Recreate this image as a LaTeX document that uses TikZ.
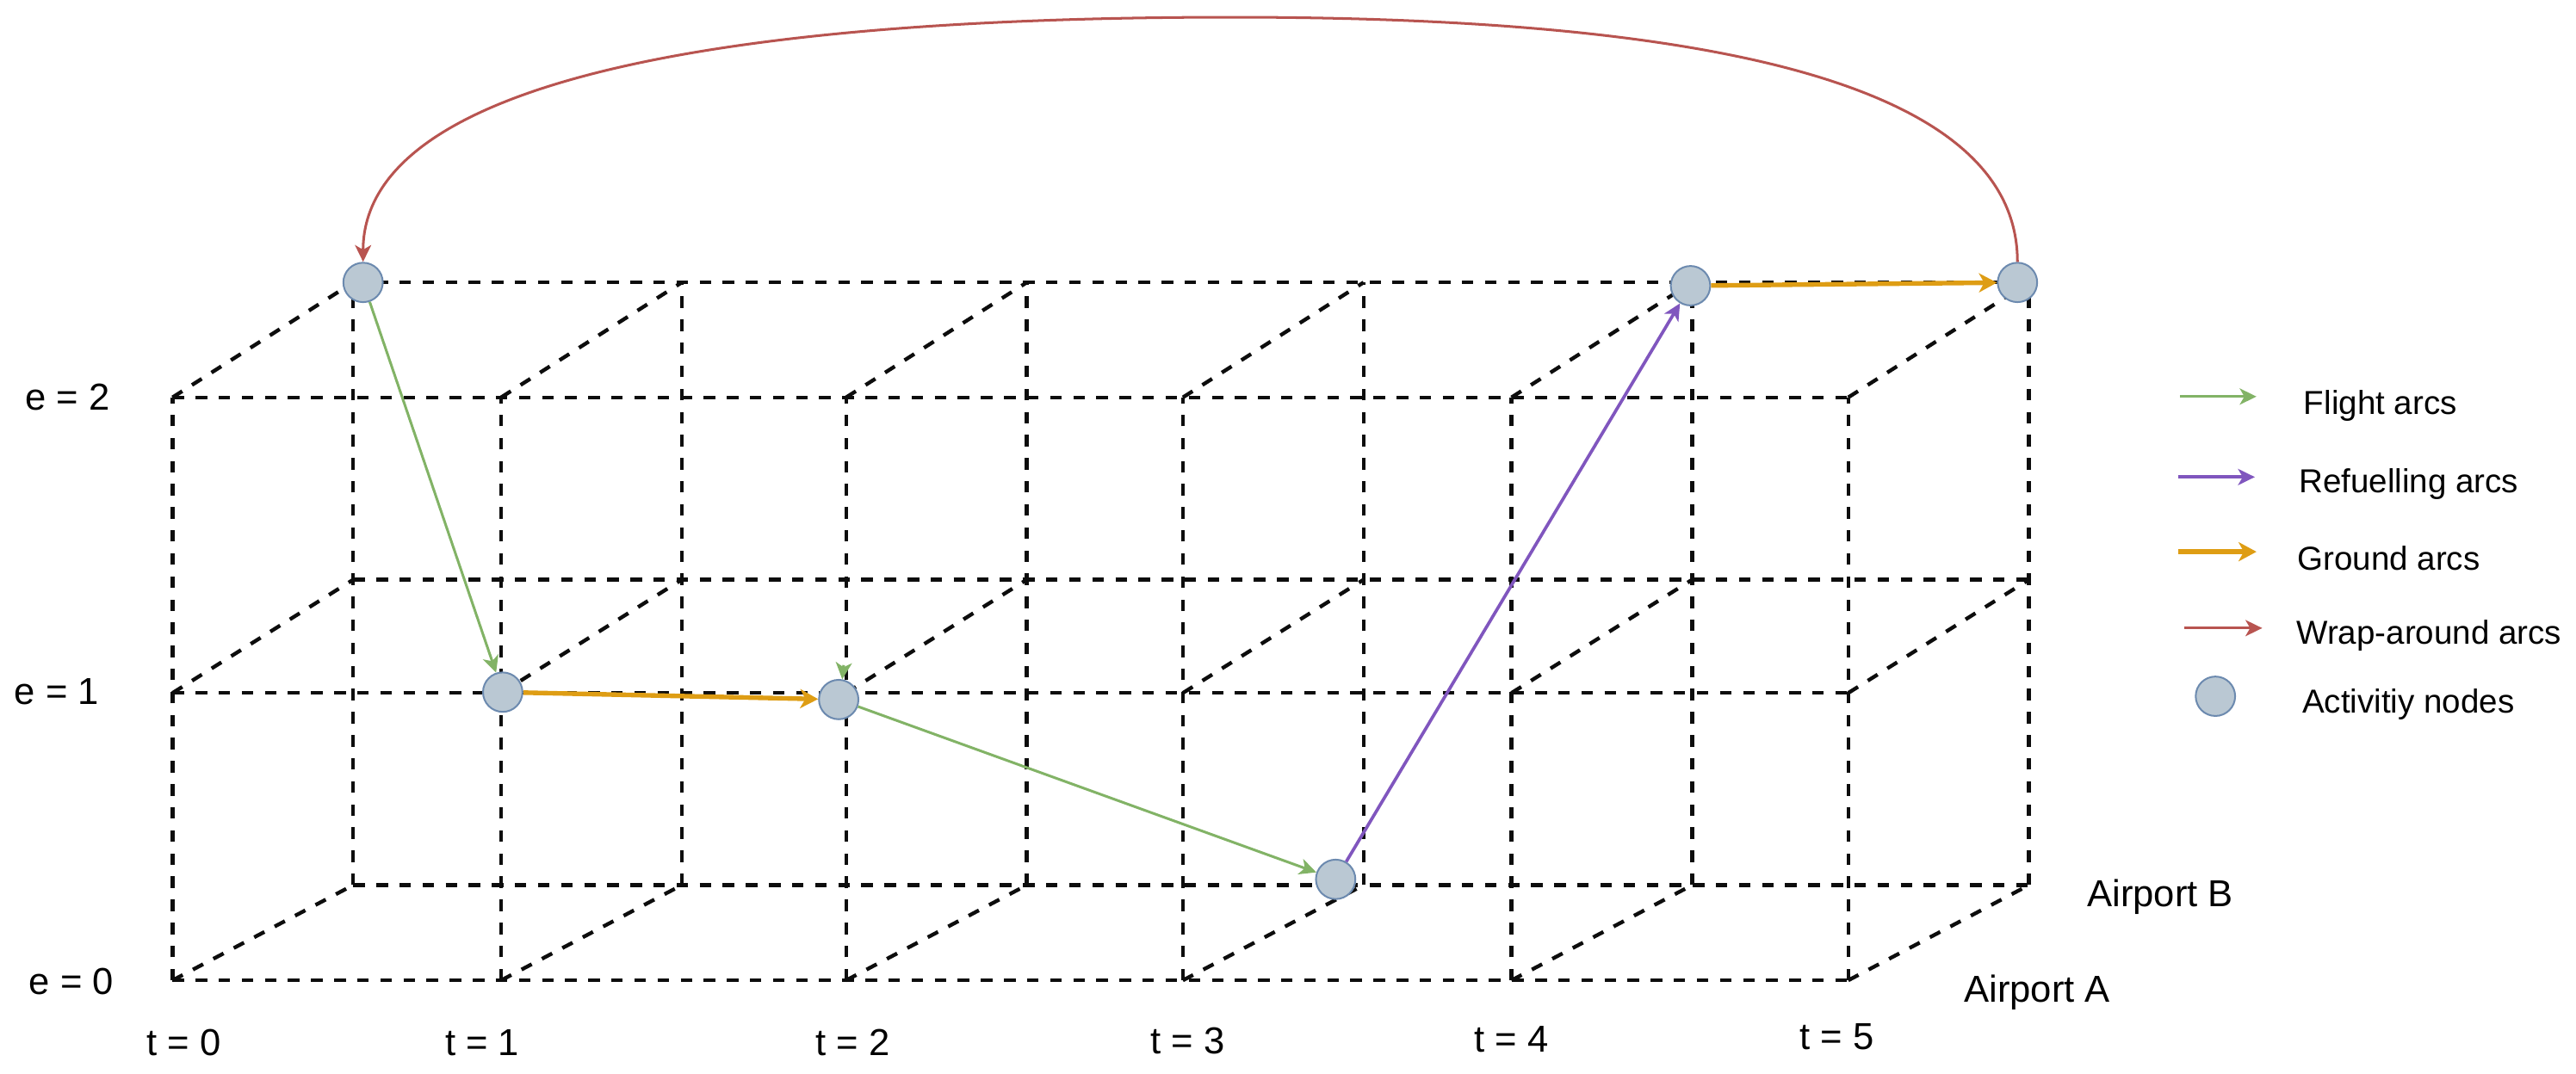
\documentclass[tikz,border=0pt]{standalone}
\usepackage{fontspec}
\setmainfont{Liberation Sans}
\usetikzlibrary{arrows.meta}
\definecolor{flightgreen}{RGB}{130,179,102}
\definecolor{refuelpurple}{RGB}{128,86,190}
\definecolor{groundorange}{RGB}{222,157,20}
\definecolor{wrapred}{RGB}{184,84,80}
\definecolor{actfill}{RGB}{186,200,211}
\definecolor{actdraw}{RGB}{108,138,175}
\tikzset{
	gridline/.style={black!95, line width=1.3pt, dash pattern=on 4pt off 4pt},
	actnode/.style={circle, fill=actfill, draw=actdraw, line width=0.6pt, minimum size=0.48cm, inner sep=0pt},
	flight/.style={flightgreen, line width=0.9pt, -{Stealth[length=5.8pt,width=5.6pt,inset=1.6pt]}},
	refuel/.style={refuelpurple, line width=1.1pt, -{Stealth[length=5.8pt,width=5.6pt,inset=1.6pt]}},
	ground/.style={groundorange, line width=1.6pt, -{Stealth[length=6.2pt,width=6.6pt,inset=1.8pt]}},
	wrap/.style={wrapred, line width=0.9pt, -{Stealth[length=5.8pt,width=5.6pt,inset=1.6pt]}},
	axislabel/.style={font=\fontsize{13}{15}\selectfont, inner sep=0pt, text depth=0pt},
	legendlabel/.style={font=\fontsize{11.5}{14}\selectfont, inner sep=0pt, text depth=0pt, anchor=west}
}

\begin{document}
\begin{tikzpicture}
	\useasboundingbox (0,0) rectangle (31.36,13.08);
	
	% corners of the two airport layers
	\foreach \x [count=\t from 0] in {2.1,6.1,10.3,14.4,18.4,22.5}
	\foreach \yf/\yb [count=\e from 0] in {1.14/2.3, 4.64/6.02, 8.24/9.64}
	{
		\coordinate (f\t\e) at (\x,\yf);
		\coordinate (b\t\e) at (\x+2.2,\yb);
	}
	
	\foreach \t in {0,...,5}
	{
		\draw[gridline] (f\t0) -- (f\t2);
		\draw[gridline] (b\t0) -- (b\t2);
	}
	\foreach \e in {0,1,2}
	{
		\draw[gridline] (f0\e) -- (f5\e);
		\draw[gridline] (b0\e) -- (b5\e);
		\foreach \t in {0,...,5}
		\draw[gridline] (f\t\e) -- (b\t\e);
	}
	
	\node[actnode] (n1) at (4.42,9.64) {};
	\node[actnode] (n2) at (6.12,4.65) {};
	\node[actnode] (n3) at (10.21,4.56) {};
	\node[actnode] (n4) at (16.26,2.37) {};
	\node[actnode] (n5) at (20.58,9.6) {};
	\node[actnode] (n6) at (24.56,9.64) {};
	
	\draw[flight] (n1) -- (n2);
	\draw[ground] (n2) -- (n3);
	\coordinate (stub) at (10.27,4.98);
	\draw[flight] (stub) -- (n3.80);
	\draw[flight] (n3) -- (n4);
	\draw[refuel] (n4) -- (n5);
	\draw[ground] (n5) -- (n6);
	\coordinate (apex) at (15.0,12.87);
	\draw[wrap] (n6.north) .. controls +(0,2.0) and +(6.4,0) .. (apex)
		.. controls +(-7.0,0) and +(0,2.0) .. (n1.north);
	
	\node[axislabel] (e2) at (0.82,8.24) {e = 2};
	\node[axislabel] (e1) at (0.69,4.66) {e = 1};
	\node[axislabel] (e0) at (0.87,1.13) {e = 0};
	\node[axislabel] (t0) at (2.24,0.38) {t = 0};
	\node[axislabel] (t1) at (5.87,0.38) {t = 1};
	\node[axislabel] (t2) at (10.38,0.38) {t = 2};
	\node[axislabel] (t3) at (14.46,0.4) {t = 3};
	\node[axislabel] (t4) at (18.4,0.42) {t = 4};
	\node[axislabel] (t5) at (22.36,0.46) {t = 5};
	\node[axislabel] (apB) at (26.3,2.2) {Airport B};
	\node[axislabel] (apA) at (24.8,1.04) {Airport A};
	
	% legend
	\coordinate (lgF0) at (26.54,8.25); \coordinate (lgF1) at (27.47,8.25);
	\coordinate (lgR0) at (26.52,7.27); \coordinate (lgR1) at (27.45,7.27);
	\coordinate (lgG0) at (26.52,6.36); \coordinate (lgG1) at (27.47,6.36);
	\coordinate (lgW0) at (26.59,5.43); \coordinate (lgW1) at (27.54,5.43);
	\draw[flight] (lgF0) -- (lgF1);
	\draw[refuel] (lgR0) -- (lgR1);
	\draw[ground] (lgG0) -- (lgG1);
	\draw[wrap] (lgW0) -- (lgW1);
	\node[actnode] (lgN) at (26.97,4.6) {};
	\node[legendlabel] (lgFt) at (28.04,8.18) {Flight arcs};
	\node[legendlabel] (lgRt) at (27.98,7.23) {Refuelling arcs};
	\node[legendlabel] (lgGt) at (27.96,6.28) {Ground arcs};
	\node[legendlabel] (lgWt) at (27.95,5.38) {Wrap-around arcs};
	\node[legendlabel] (lgNt) at (28.02,4.54) {Activitiy nodes};
\end{tikzpicture}
\end{document}
